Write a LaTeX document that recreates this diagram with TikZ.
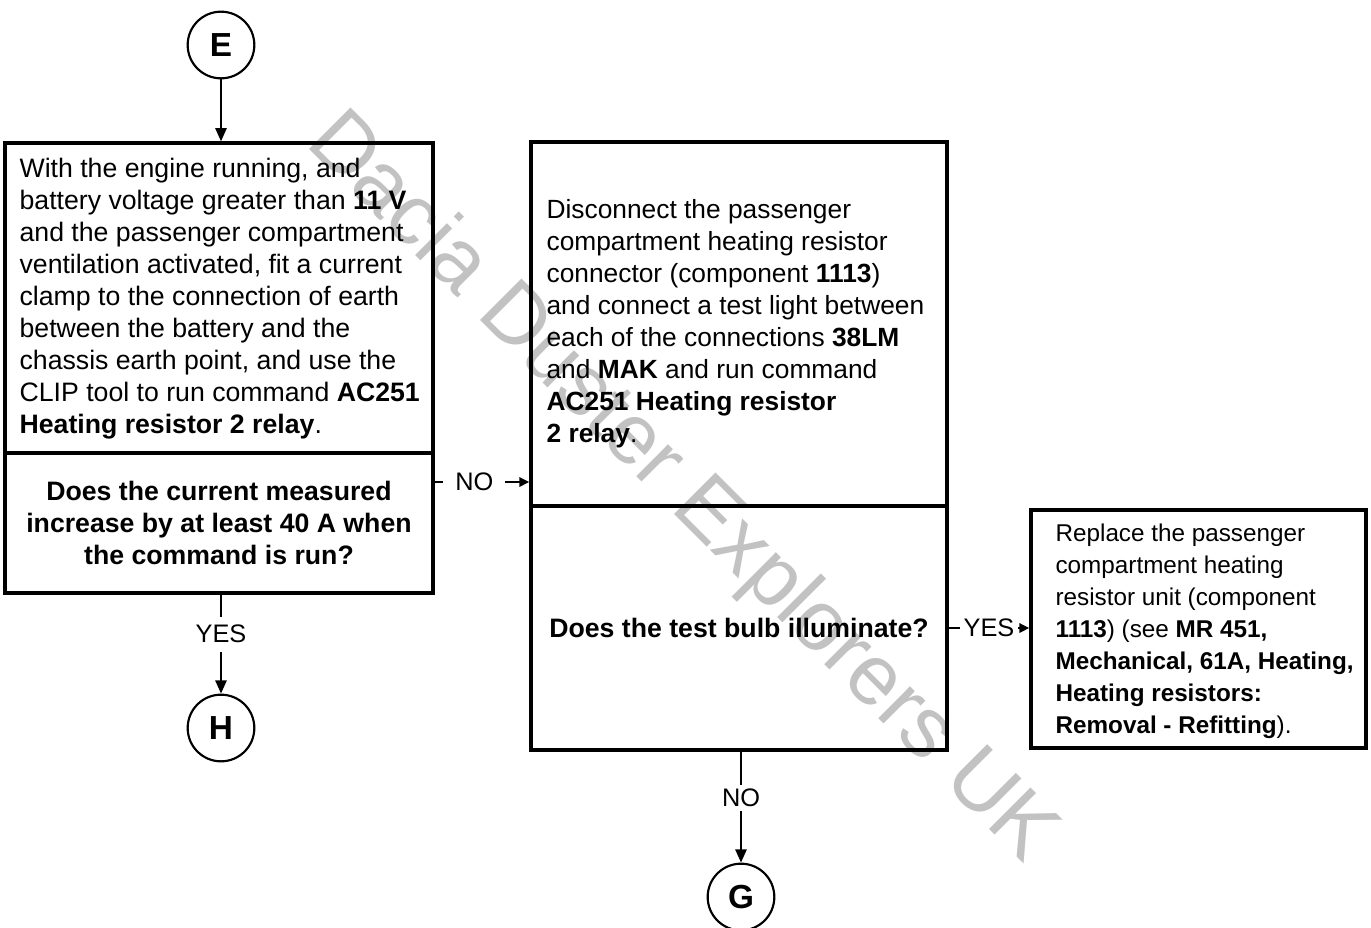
\documentclass[tikz,border=0pt]{standalone}
\usepackage{fontspec}
\setmainfont{Liberation Sans}
\usetikzlibrary{arrows.meta,calc}
\begin{document}
\begin{tikzpicture}[x=0.75pt,y=-0.75pt,
  box/.style={draw, line width=2.5pt, rectangle, inner sep=0pt},
  txt/.style={align=left, inner sep=0pt, font=\fontsize{20}{24}\selectfont},
  qtxt/.style={align=center, inner sep=0pt, font=\fontsize{20}{24}\selectfont\bfseries},
  term/.style={draw, circle, line width=1.6pt, minimum size=50pt, inner sep=0pt, font=\fontsize{25}{26}\selectfont\bfseries},
  conn/.style={line width=1.5pt, -{Triangle[length=10pt,width=8.5pt]}},
  hconn/.style={line width=1.5pt, -{Triangle[length=7.5pt,width=7pt]}},
  lbl/.style={fill=white, inner sep=2pt, font=\fontsize{19}{22}\selectfont},
]
\useasboundingbox (0,0) rectangle (1371,928);
% watermark
\node[rotate=-45, text=black!24, font=\fontsize{64}{64}\selectfont, inner sep=0pt, anchor=base west] (wm) at (304,144) {Dacia Duster Explorers UK};

% terminals
\node[term] (E) at (221,45) {E};
\node[term] (H) at (221,728) {H};
\node[term] (G) at (741,897) {G};

% boxes
\node[box, minimum width=321pt, minimum height=232.5pt] (b1) at (219,298) {};
\node[box, minimum width=321pt, minimum height=105pt] (q1) at (219,523) {};
\node[box, minimum width=312pt, minimum height=273pt] (b2) at (739,324) {};
\node[box, minimum width=312pt, minimum height=183pt] (q2) at (739,628) {};
\node[box, minimum width=251.25pt, minimum height=178.5pt] (b3) at (1198.5,629) {};

% texts
\node[txt, anchor=west] (t1) at ($(b1.west)+(16,1)$) {With the engine running, and\\
battery voltage greater than \textbf{11 V}\\
and the passenger compartment\\
ventilation activated, fit a current\\
clamp to the connection of earth\\
between the battery and the\\
chassis earth point, and use the\\
CLIP tool to run command \textbf{AC251}\\
\textbf{Heating resistor 2 relay}.};
\node[qtxt] (qt1) at (q1.center) {Does the current measured\\increase by at least 40 A when\\the command is run?};
\node[txt, anchor=west, font=\fontsize{19.75}{24}\selectfont] (t2) at ($(b2.west)+(17,0)$) {Disconnect the passenger\\
compartment heating resistor\\
connector (component \textbf{1113})\\
and connect a test light between\\
each of the connections \textbf{38LM}\\
and \textbf{MAK} and run command\\
\textbf{AC251 Heating resistor}\\
\textbf{2 relay}.};
\node[qtxt] (qt2) at (q2.center) {Does the test bulb illuminate?};
\node[txt, anchor=west, font=\fontsize{18.2}{24}\selectfont] (t3) at ($(b3.west)+(26,2)$) {Replace the passenger\\
compartment heating\\
resistor unit (component\\
\textbf{1113}) (see \textbf{MR 451,}\\
\textbf{Mechanical, 61A, Heating,}\\
\textbf{Heating resistors:}\\
\textbf{Removal - Refitting}).};

% connectors
\coordinate (ny) at (0,482);
\draw[conn] (E.south) -- (E.south |- b1.north);
\draw[conn] (H |- q1.south) -- node[lbl, pos=0.4, inner xsep=2pt, inner ysep=6.5pt]{YES} (H.north);
\draw[hconn] (q1.east |- ny) -- node[lbl, pos=0.42, inner xsep=9pt, inner ysep=2pt]{NO} (b2.west |- ny);
\draw[hconn] (q2.east) -- node[lbl, pos=0.5, inner xsep=2.5pt, inner ysep=2pt]{YES} (b3.west |- q2.east);
\draw[conn] (G |- q2.south) -- node[lbl, pos=0.42, inner xsep=2pt, inner ysep=3pt]{NO} (G.north);
\end{tikzpicture}
\end{document}
